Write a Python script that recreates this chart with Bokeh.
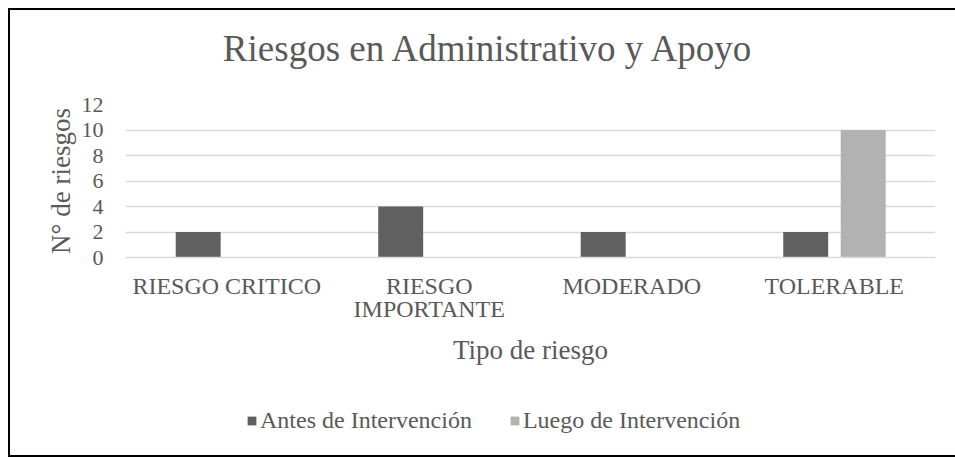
from bokeh.plotting import figure
from bokeh.layouts import column
from bokeh.models import (FixedTicker, Legend, LegendItem, ColumnDataSource,
                          LinearAxis, Range1d, Label)
from bokeh.transform import dodge
from bokeh.embed import file_html
from bokeh.resources import INLINE

title_text = "Riesgos en Administrativo y Apoyo"
categories = ["RIESGO CRITICO", "RIESGO IMPORTANTE", "MODERADO", "TOLERABLE"]
label_line1 = ["RIESGO CRITICO", "RIESGO", "MODERADO", "TOLERABLE"]
label_line2 = ["", "IMPORTANTE", "", ""]
antes = [2, 4, 2, 2]
luego = [0, 0, 0, 10]
y_ticks = [0, 2, 4, 6, 8, 10, 12]
series_names = ["Antes de Intervención", "Luego de Intervención"]

FONT = "Liberation Serif"
TXT = "#595959"
C_ANTES = "#606060"
C_LUEGO = "#b2b2b2"

# category centres on a numeric axis (one unit per category)
cat_pos = [i + 0.5 for i in range(len(categories))]

source = ColumnDataSource(dict(x=cat_pos, antes=antes, luego=luego))

W = 947


def strip(height):
    s = figure(width=W, height=height, output_backend="svg", toolbar_location=None,
               x_axis_type=None, y_axis_type=None,
               x_range=Range1d(0, 1), y_range=Range1d(0, 1),
               min_border_left=0, min_border_right=0, min_border_top=0, min_border_bottom=0)
    s.outline_line_color = None
    s.xgrid.grid_line_color = None
    s.ygrid.grid_line_color = None
    return s


# title strip (frame aligned with the main plot's frame by the column layout)
tf = strip(78)
tf.add_layout(Label(x=0.4488, y=0.513, text=title_text, text_align="center",
                    text_baseline="alphabetic", text_font=FONT, text_font_size="37px",
                    text_color=TXT))

p = figure(
    x_range=Range1d(0, len(categories)),
    y_range=Range1d(0, 12),
    width=W, height=302,
    output_backend="svg", toolbar_location=None,
    min_border_left=115, min_border_right=22, min_border_top=16, min_border_bottom=133,
)
p.outline_line_color = None
p.background_fill_color = "white"
p.border_fill_color = "white"

r1 = p.vbar(x=dodge("x", -0.141), top="antes", width=0.222,
            source=source, fill_color=C_ANTES, line_color=None)
r2 = p.vbar(x=dodge("x", 0.143), top="luego", width=0.222,
            source=source, fill_color=C_LUEGO, line_color=None)

p.xgrid.grid_line_color = None
p.ygrid.ticker = FixedTicker(ticks=y_ticks)
p.ygrid.grid_line_color = "#d9d9d9"
p.ygrid.grid_line_width = 1.5

p.yaxis.ticker = FixedTicker(ticks=y_ticks)
p.yaxis.axis_line_color = None
p.yaxis.major_tick_line_color = None
p.yaxis.minor_tick_line_color = None
p.yaxis.major_label_standoff = 16
p.yaxis.major_label_text_font = FONT
p.yaxis.major_label_text_font_size = "22px"
p.yaxis.major_label_text_color = TXT
p.yaxis.axis_label = "N° de riesgos"
p.yaxis.axis_label_text_font = FONT
p.yaxis.axis_label_text_font_size = "27px"
p.yaxis.axis_label_text_font_style = "normal"
p.yaxis.axis_label_text_color = TXT
p.yaxis.axis_label_standoff = 3

# first line of category labels
ax1 = p.xaxis[0]
ax1.ticker = FixedTicker(ticks=cat_pos)
ax1.axis_line_color = "#d9d9d9"
ax1.axis_line_width = 1.5
ax1.major_tick_line_color = None
ax1.minor_tick_line_color = None
ax1.major_label_standoff = 9
ax1.major_label_overrides = dict(zip(cat_pos, label_line1))
ax1.major_label_text_font = FONT
ax1.major_label_text_font_size = "24px"
ax1.major_label_text_color = TXT

# second line of category labels + axis title
ax2 = LinearAxis(ticker=FixedTicker(ticks=cat_pos))
ax2.axis_line_color = None
ax2.major_tick_line_color = None
ax2.minor_tick_line_color = None
ax2.major_label_standoff = -12
ax2.major_label_overrides = dict(zip(cat_pos, label_line2))
ax2.major_label_text_font = FONT
ax2.major_label_text_font_size = "24px"
ax2.major_label_text_color = TXT
ax2.axis_label = "Tipo de riesgo"
ax2.axis_label_text_font = FONT
ax2.axis_label_text_font_size = "27px"
ax2.axis_label_text_font_style = "normal"
ax2.axis_label_text_color = TXT
ax2.axis_label_standoff = 10
p.add_layout(ax2, "below")

# legend strip
lf = strip(65)
l1 = lf.vbar(x="x", top="antes", width=0.222, source=source,
             fill_color=C_ANTES, line_color=None, visible=False)
l2 = lf.vbar(x="x", top="luego", width=0.222, source=source,
             fill_color=C_LUEGO, line_color=None, visible=False)

legend = Legend(
    items=[LegendItem(label=series_names[0], renderers=[l1]),
           LegendItem(label=series_names[1], renderers=[l2])],
    orientation="horizontal",
    location=(121, 21),
    glyph_width=11, glyph_height=11,
    label_standoff=3, spacing=37,
    padding=0, margin=0,
    border_line_color=None, background_fill_alpha=0,
    inactive_fill_alpha=0,
    label_text_font=FONT, label_text_font_size="24px", label_text_color=TXT,
)
lf.add_layout(legend, "center")

layout = column(tf, p, lf, spacing=0)
layout.styles = {"border": "2px solid #000000", "margin-left": "8px", "margin-top": "8px",
                 "background-color": "white"}

open("out.html", "w").write(file_html(layout, INLINE))
